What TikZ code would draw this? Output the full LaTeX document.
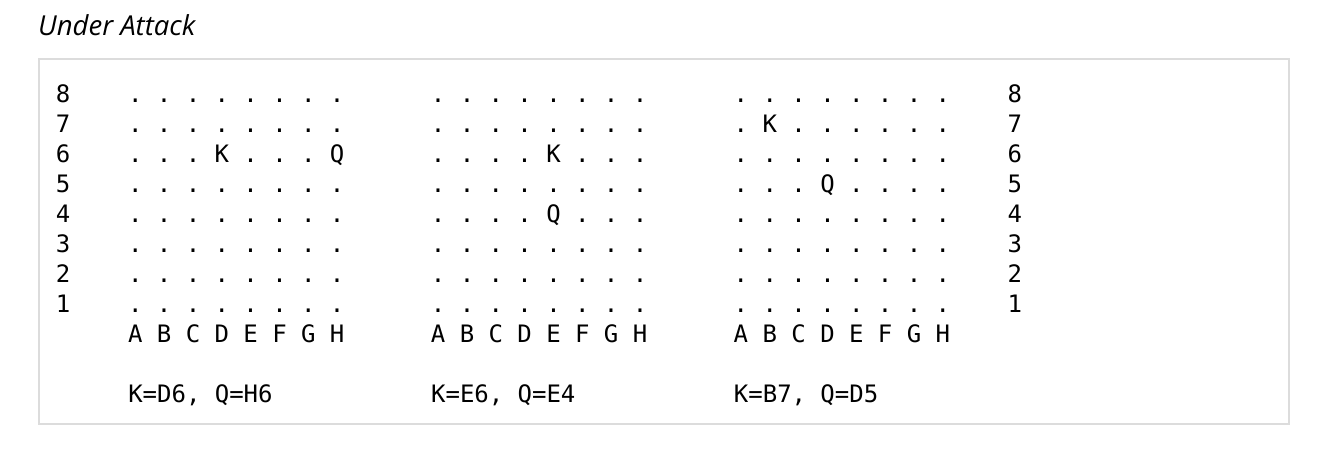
\documentclass[tikz,border=0pt]{standalone}
\usepackage{fontspec}
\newfontfamily\mono{DejaVu Sans Mono}
\newfontfamily\titlefont{Open Sans}
\definecolor{boxgray}{RGB}{220,220,220}
\newcommand\pieceof[1]{\ifnum#1=36 K\else\ifnum#1=76 Q\else\ifnum#1=146 K\else\ifnum#1=144 Q\else\ifnum#1=217 K\else\ifnum#1=235 Q\else.\fi\fi\fi\fi\fi\fi}
\begin{document}
\begin{tikzpicture}[x=1pt,y=-1pt,
  cell/.style={inner sep=0pt, anchor=base, font=\mono\fontsize{24}{30}\selectfont},
  sumtext/.style={inner sep=0pt, anchor=base west, font=\mono\fontsize{24}{30}\selectfont},
  frame/.style={draw=boxgray, line width=2pt}]
\useasboundingbox (0,0) rectangle (1328,450);
\node[anchor=base west, inner sep=0pt, font=\titlefont\itshape\fontsize{27.5}{30}\selectfont] (title) at (38,35) {Under Attack};
\path[frame] (38.5,58.5) rectangle (1289,424);
\def\cw{14.42}
\def\xo{56}
\foreach \r in {1,...,8}{
  \pgfmathsetmacro\yy{102.5+(8-\r)*30}
  \node[cell] (lrow\r) at ({\xo+0.5*\cw},\yy) {\r};
  \node[cell] (rrow\r) at ({\xo+66.5*\cw},\yy) {\r};
  \foreach \b in {0,1,2}{
    \foreach \f in {0,...,7}{
      \pgfmathtruncatemacro\code{\b*100+\f*10+\r}
      \node[cell] (c\b-\f-\r) at ({\xo+(5+21*\b+2*\f+0.5)*\cw},\yy) {\pieceof{\code}};
    }
  }
}
\foreach \b in {0,1,2}{
  \foreach \f/\L in {0/A,1/B,2/C,3/D,4/E,5/F,6/G,7/H}{
    \node[cell] (file\b\L) at ({\xo+(5+21*\b+2*\f+0.5)*\cw},342.5) {\L};
  }
}
\node[sumtext] (s0a) at ({\xo+5*\cw},402.5) {K=D6,};
\node[sumtext] (s0b) at ({\xo+11*\cw},402.5) {Q=H6};
\node[sumtext] (s1a) at ({\xo+26*\cw},402.5) {K=E6,};
\node[sumtext] (s1b) at ({\xo+32*\cw},402.5) {Q=E4};
\node[sumtext] (s2a) at ({\xo+47*\cw},402.5) {K=B7,};
\node[sumtext] (s2b) at ({\xo+53*\cw},402.5) {Q=D5};
\end{tikzpicture}
\end{document}
